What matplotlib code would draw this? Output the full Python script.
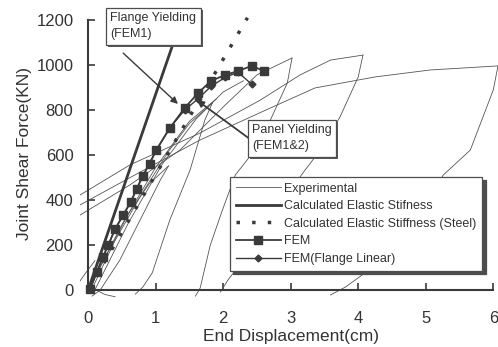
import matplotlib.pyplot as plt
from matplotlib.patches import Rectangle
from matplotlib.transforms import IdentityTransform

# FEM results
fem_x = [0.03, 0.13, 0.22, 0.30, 0.40, 0.52, 0.63, 0.72, 0.81, 0.91, 1.01, 1.21, 1.43, 1.63, 1.82, 2.03, 2.22, 2.42, 2.61]
fem_y = [4, 80, 147, 200, 271, 333, 391, 449, 507, 560, 622, 720, 809, 876, 929, 956, 973, 996, 973]

# FEM with linear flange
fl_x = [0.03, 0.22, 0.40, 0.63, 0.81, 1.01, 1.21, 1.43, 1.63, 1.82, 2.03, 2.22, 2.42]
fl_y = [4, 147, 271, 391, 507, 622, 720, 800, 850, 905, 945, 968, 915]

# calculated elastic stiffness lines
calc_x = [0, 1.38]
calc_y = [0, 1200]
steel_x = [0, 2.36]
steel_y = [0, 1210]

# experimental hysteresis branches
exp_curves = [
    ([0.0, 0.3, 0.6, 0.9, 1.19], [0, 170, 340, 470, 551]),
    ([1.19, 1.07, 0.77, 0.47, 0.18, 0.06], [551, 489, 311, 133, 0, -27]),
    ([0.05, 0.4, 0.8, 1.2, 1.5, 1.84], [0, 220, 430, 620, 740, 831]),
    ([1.84, 1.73, 1.51, 1.21, 0.95, 0.81, 0.70], [831, 756, 533, 311, 76, 13, -18]),
    ([0.1, 0.6, 1.1, 1.6, 2.0, 2.3], [0, 300, 560, 760, 880, 930]),
    ([0.0, 0.5, 1.0, 1.5, 1.9], [0, 290, 545, 750, 850]),
    ([-0.12, 0.62, 1.36, 2.03, 2.5, 3.02], [333, 467, 622, 822, 956, 1031]),
    ([3.02, 2.95, 2.70, 2.47, 2.18, 1.99, 1.81, 1.66, 1.59], [1031, 920, 756, 622, 511, 356, 200, 9, -27]),
    ([-0.12, 0.62, 1.66, 2.55, 3.14, 3.59, 4.07], [422, 556, 698, 844, 956, 1022, 1044]),
    ([4.07, 4.0, 3.73, 3.44, 3.19, 2.84, 2.47, 2.07, 1.96], [1044, 947, 769, 622, 524, 378, 200, 44, -9]),
    ([-0.12, 0.77, 1.66, 2.70, 3.36, 4.25, 5.07, 6.07], [378, 524, 667, 809, 898, 947, 978, 996]),
    ([6.07, 6.0, 5.66, 5.26, 4.47, 3.81, 3.59], [996, 889, 622, 511, 156, 13, -22]),
    ([-0.12, -0.05, 0.1], [40, 70, 130]),
    ([0.15, 0.25, 0.4], [-5, -20, -30]),
]

xticks = [0, 1, 2, 3, 4, 5, 6]
yticks = [0, 200, 400, 600, 800, 1000, 1200]

plt.rcParams['font.family'] = ['Liberation Sans', 'DejaVu Sans']
txt = '#333333'
dark = '#3a3a3a'

fig = plt.figure(figsize=(4.98, 3.47), dpi=100)
ax = fig.add_axes([0.1606, 0.1383, 0.8394, 0.8235])

for i, (xs, ys) in enumerate(exp_curves):
    ax.plot(xs, ys, color='#555555', lw=0.6, zorder=2,
            label='Experimental' if i == 0 else None)

ax.plot(calc_x, calc_y, color=dark, lw=2.0, zorder=3, label='Calculated Elastic Stifness')
ax.plot(steel_x, steel_y, color=dark, lw=2.5, dashes=(1, 3.5), zorder=3,
        label='Calculated Elastic Stiffness (Steel)')
ax.plot(fl_x, fl_y, color=dark, lw=1.0, marker='D', ms=3.5, zorder=4, label='FEM(Flange Linear)')
ax.plot(fem_x, fem_y, color=dark, lw=1.3, marker='s', ms=5.5, zorder=5, label='FEM')

ax.set_xlim(-0.12, 6.07)
ax.set_ylim(-40, 1230)
ax.set_xticks(xticks)
ax.set_yticks(yticks)

for s in ['top', 'right']:
    ax.spines[s].set_visible(False)
ax.spines['left'].set_position(('data', 0))
ax.spines['bottom'].set_position(('data', 0))
ax.spines['left'].set_bounds(0, 1200)
ax.spines['bottom'].set_bounds(0, 6)
for s in ['left', 'bottom']:
    ax.spines[s].set_linewidth(1.5)
    ax.spines[s].set_color(dark)
    ax.spines[s].set_zorder(6)

ax.tick_params(axis='both', direction='in', length=5, width=1.2, color=dark,
               labelsize=12, labelcolor=txt)
ax.tick_params(axis='y', pad=10.5)
ax.tick_params(axis='x', pad=15)

ax.set_xlabel('End Displacement(cm)', fontsize=12.5, color=txt)
ax.set_ylabel('Joint Shear Force(KN)', fontsize=12.5, color=txt)
ax.xaxis.set_label_coords(0.505, -0.105)
ax.yaxis.set_label_coords(-0.115, 0.51)

# annotation boxes
boxes = []
for bx, by, s in [(0.33, 1236, 'Flange Yielding\n(FEM1)'), (2.43, 738, 'Panel Yielding\n(FEM1&2)')]:
    boxes.append(ax.text(bx, by, s, fontsize=9, color=txt, ha='left', va='top',
                         linespacing=1.5, zorder=8.5,
                         bbox=dict(boxstyle='square,pad=0.35', fc='white', ec='0.3', lw=0.9)))

ax.annotate('', xy=(1.33, 827), xytext=(0.52, 1053), zorder=7,
            arrowprops=dict(arrowstyle='-|>', color=dark, lw=1.0, mutation_scale=10, shrinkA=0, shrinkB=0))
ax.annotate('', xy=(1.61, 844), xytext=(2.40, 670), zorder=7,
            arrowprops=dict(arrowstyle='-|>', color=dark, lw=1.3, mutation_scale=10, shrinkA=0, shrinkB=0))

h, l = ax.get_legend_handles_labels()
order = ['Experimental', 'Calculated Elastic Stifness', 'Calculated Elastic Stiffness (Steel)',
         'FEM', 'FEM(Flange Linear)']
hs = [h[l.index(k)] for k in order]
leg = ax.legend(hs, order, loc='upper left', bbox_to_anchor=(230 / 498, 1 - 177 / 347),
                bbox_transform=fig.transFigure, fontsize=9, handlelength=3.6, handletextpad=0.3,
                labelspacing=0.45, borderpad=0.45, borderaxespad=0, fancybox=False, framealpha=1,
                edgecolor='0.3', shadow={'color': '0.3', 'alpha': 1, 'ox': 2.5, 'oy': -2.5})
leg.get_frame().set_linewidth(0.9)
leg.set_zorder(9)
for t in leg.get_texts():
    t.set_color(txt)

# dark shadow behind the annotation boxes
fig.canvas.draw()
rend = fig.canvas.get_renderer()
for t in boxes:
    bb = t.get_bbox_patch().get_window_extent(rend)
    ax.add_artist(Rectangle((bb.x0 + 2, bb.y0 - 2), bb.width, bb.height, transform=IdentityTransform(),
                            fc='0.35', ec='none', zorder=8.2, clip_on=False))

fig.savefig('out.png', dpi=100)
